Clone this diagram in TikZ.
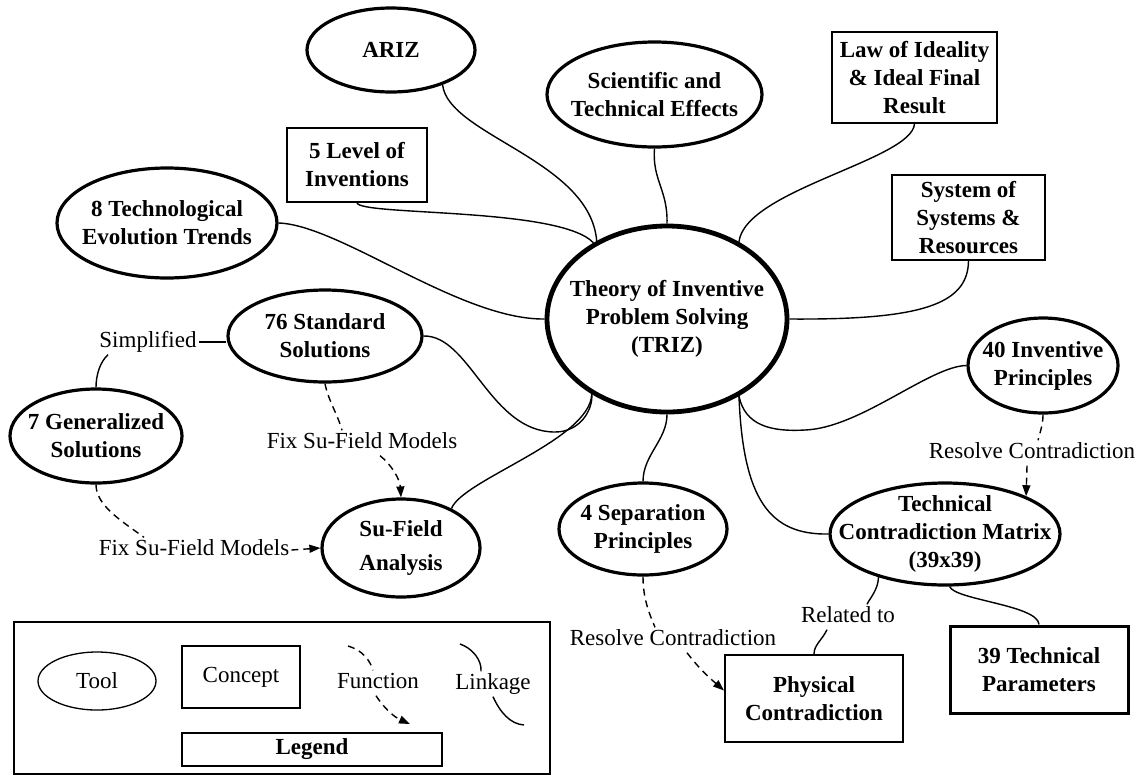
\documentclass[tikz,border=0pt]{standalone}
\usepackage{fontspec}
\setmainfont{Liberation Serif}
\usetikzlibrary{shapes.geometric,arrows.meta,calc}
\begin{document}
\begin{tikzpicture}[x=1pt,y=-1pt,
  toolnode/.style={ellipse,draw,line width=3.2pt,inner sep=-60pt,align=center,
    font=\bfseries\fontsize{23}{28}\selectfont},
  conceptbox/.style={rectangle,draw,line width=1.6pt,inner sep=0pt,align=center,
    font=\bfseries\fontsize{23}{28}\selectfont},
  lbl/.style={inner sep=2pt,text height=16pt,text depth=5pt,
    font=\fontsize{23}{28}\selectfont},
  linkline/.style={line width=1.4pt},
  funcline/.style={line width=1.4pt,dash pattern=on 7pt off 5pt},
  funcarrow/.style={funcline,-{Triangle[length=11pt,width=8pt]}}]
\useasboundingbox (0,0) rectangle (1147,777);

% central tool
\node[toolnode,line width=4.8pt,minimum width=240pt,minimum height=186pt] (triz) at (667,319)
  {Theory of Inventive\\Problem Solving\\(TRIZ)};

% tools (ellipses)
\node[toolnode,minimum width=168pt,minimum height=84pt] (ariz) at (391,50) {ARIZ};
\node[toolnode,minimum width=215pt,minimum height=105pt] (sci) at (654.5,94.5)
  {Scientific and\\Technical Effects};
\node[toolnode,minimum width=220pt,minimum height=110pt] (tech8) at (167,223)
  {8 Technological\\Evolution Trends};
\node[toolnode,minimum width=194pt,minimum height=92pt] (std) at (325,336)
  {76 Standard\\Solutions};
\node[toolnode,minimum width=172pt,minimum height=94pt] (gen7) at (96,436)
  {7 Generalized\\Solutions};
\node[toolnode,minimum width=158pt,minimum height=98pt,
  font=\bfseries\fontsize{23}{34}\selectfont] (suf) at (401,548) {Su-Field\\Analysis};
\node[toolnode,minimum width=150pt,minimum height=95pt] (inv40) at (1043,365.5)
  {40 Inventive\\Principles};
\node[toolnode,minimum width=230pt,minimum height=102pt] (tcm) at (945,534)
  {Technical\\Contradiction Matrix\\(39x39)};
\node[toolnode,minimum width=168pt,minimum height=92pt] (sep4) at (643,529)
  {4 Separation\\Principles};

% concepts (boxes)
\node[conceptbox,minimum width=140pt,minimum height=74pt] (lvl) at (357,165)
  {5 Level of\\Inventions};
\node[conceptbox,minimum width=165pt,minimum height=91pt] (law) at (914.5,77.5)
  {Law of Ideality\\\& Ideal Final\\Result};
\node[conceptbox,minimum width=153pt,minimum height=85pt] (sys) at (968.5,217.5)
  {System of\\Systems \&\\Resources};
\node[conceptbox,line width=2pt,minimum width=178pt,minimum height=87pt] (phys) at (814,698.5)
  {Physical\\Contradiction};
\node[conceptbox,line width=3pt,minimum width=178pt,minimum height=87pt] (par39) at (1039,669.5)
  {39 Technical\\Parameters};

% connector labels
\node[lbl] (sp) at (148,342) {Simplified};
\node[lbl] (fs1) at (362,443) {Fix Su-Field Models};
\node[lbl] (fs2) at (194,550) {Fix Su-Field Models};
\node[lbl] (rc1) at (1032,453) {Resolve Contradiction};
\node[lbl] (rc2) at (673,640) {Resolve Contradiction};
\node[lbl] (rel) at (848,617) {Related to};

% linkages
\draw[linkline] (ariz.326) .. controls (448,135) and (590,160) .. (triz.132);
\draw[linkline] (lvl.south) .. controls (360,216) and (560,207) .. (triz.134);
\draw[linkline] (sci.south) .. controls (652,180) and (668,190) .. (triz.north);
\draw[linkline] (law.south) .. controls (912,160) and (745,190) .. (triz.47);
\draw[linkline] (sys.south) .. controls (968,305) and (920,320) .. (triz.east);
\draw[linkline] (tech8.east) .. controls (340,225) and (460,320) .. (triz.west);
\draw[linkline] (std.east) .. controls (470,335) and (490,432) .. (555,432)
  .. controls (580,432) and (593,410) .. (triz.225);
\draw[linkline] (suf.38) .. controls (462,480) and (590,440) .. (triz.225);
\draw[linkline] (triz.south) .. controls (667,440) and (643,455) .. (sep4.north);
\draw[linkline] (triz.313) .. controls (745,425) and (770,432) .. (805,430)
  .. controls (860,428) and (930,366) .. (inv40.west);
\draw[linkline] (triz.313) .. controls (743,500) and (770,535) .. (tcm.west);
\draw[linkline] (tcm.275) .. controls (955,600) and (1038,605) .. (par39.north);
\draw[linkline] (tcm.213) .. controls (878,590) and (870,598) .. ($(rel.north)+(19,0)$);
\draw[linkline] ($(rel.south)+(-21,0)$) .. controls (822,640) and (814,645) .. (phys.north);
\draw[linkline] (sp.east) -- (sp.east -| std.west);
\draw[linkline] ($(sp.south)+(-40,0)$) .. controls (100,362) and (96,375) .. (gen7.north);

% functions
\draw[funcline] (std.south) .. controls (328,400) and (338,415) .. ($(fs1.north)+(-20,0)$);
\draw[funcarrow] ($(fs1.south)+(18,0)$) .. controls (392,465) and (400,480) .. (suf.north);
\draw[funcline] (gen7.south) .. controls (96,505) and (120,520) .. ($(fs2.north)+(-50,0)$);
\draw[funcarrow] (fs2.east) -- (suf.west);
\draw[funcline] (inv40.south) .. controls (1043,425) and (1040,432) .. ($(rc1.north)+(6,0)$);
\draw[funcarrow] ($(rc1.south)+(-5,0)$) -- (tcm.25);
\draw[funcline] (sep4.south) .. controls (643,600) and (650,615) .. ($(rc2.north)+(-18,0)$);
\draw[funcarrow] ($(rc2.south)+(14,0)$) .. controls (700,670) and (712,680) .. ($(phys.west)+(0,-8)$);

% legend
\node[draw,line width=2.8pt,minimum width=536pt,minimum height=152pt,inner sep=0pt]
  (legframe) at (282,698) {};
\node[ellipse,draw,line width=1.3pt,minimum width=118pt,minimum height=58pt,inner sep=-40pt,
  font=\fontsize{23}{28}\selectfont] (ltool) at (97,681) {Tool};
\node[draw,line width=1.5pt,minimum width=118pt,minimum height=62pt,inner sep=0pt,
  font=\fontsize{23}{28}\selectfont] (lconc) at (241,677) {Concept};
\node[lbl] (lfun) at (378,683) {Function};
\node[lbl] (llink) at (493,684) {Linkage};
\node[draw,line width=1.3pt,minimum width=260pt,minimum height=33pt,inner sep=0pt,
  font=\bfseries\fontsize{23}{28}\selectfont] (ltitle) at (312,749.5) {Legend};
\coordinate (fa) at (348,646);
\coordinate (fb) at (410,724);
\draw[funcline] (fa) .. controls (362,650) and (370,660) .. ($(lfun.north)+(-5,0)$);
\draw[funcarrow] ($(lfun.south)+(-2,0)$) .. controls (382,705) and (392,716) .. (fb);
\coordinate (la) at (460,644);
\coordinate (lb) at (524,725);
\draw[linkline] (la) .. controls (472,648) and (482,660) .. ($(llink.north)+(-12,0)$);
\draw[linkline] (llink.south) .. controls (500,712) and (510,724) .. (lb);
\end{tikzpicture}
\end{document}
